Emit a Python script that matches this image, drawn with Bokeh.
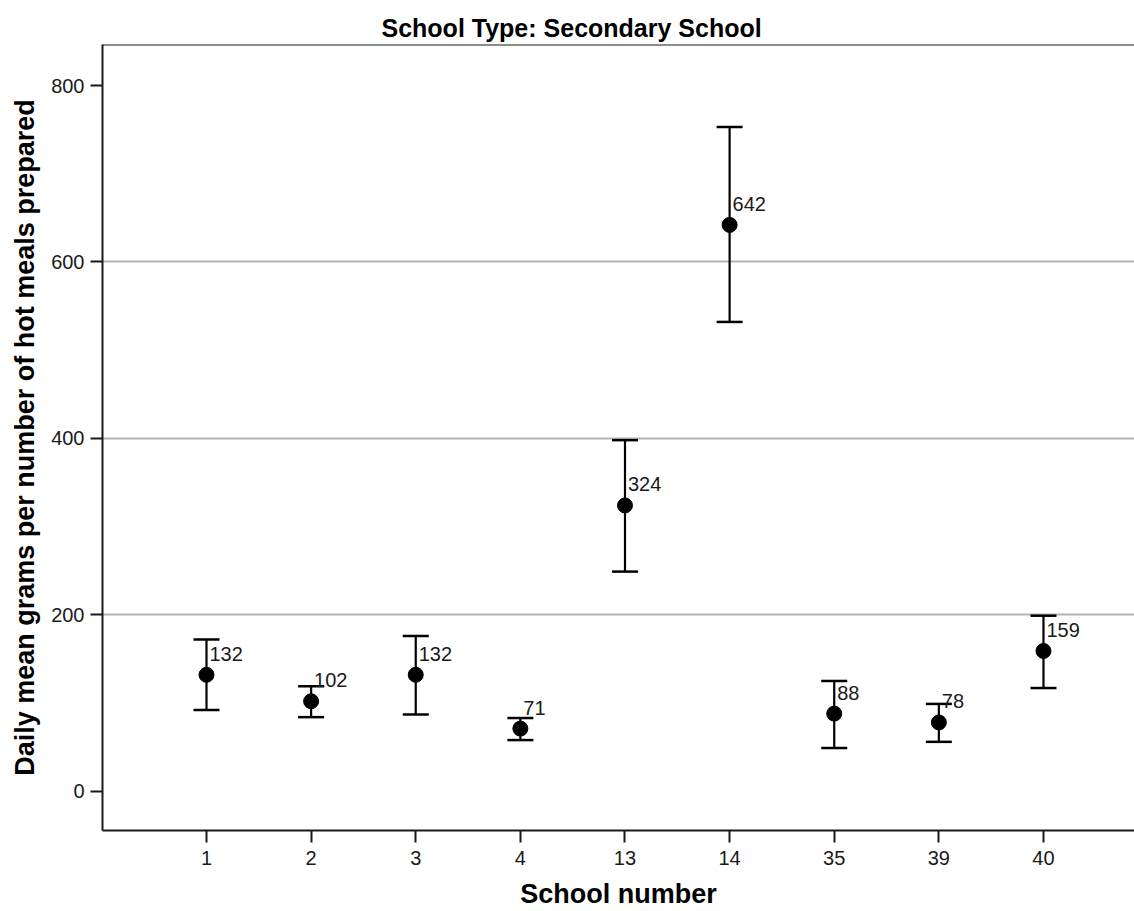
from bokeh.plotting import figure
from bokeh.models import ColumnDataSource, Whisker, TeeHead, Range1d, FixedTicker, Span
from bokeh.core.properties import value
from bokeh.embed import file_html
from bokeh.resources import INLINE

# School means with their error-bar limits
schools = ["1", "2", "3", "4", "13", "14", "35", "39", "40"]
mean_grams = [132, 102, 132, 71, 324, 642, 88, 78, 159]
bar_upper = [172, 119, 176, 83, 398, 753, 125, 99, 199]
bar_lower = [92, 84, 87, 58, 249, 532, 49, 56, 117]
y_ticks = [0, 200, 400, 600, 800]
grid_values = [200, 400, 600]

positions = list(range(len(schools)))
src = ColumnDataSource(dict(
    x=positions,
    mean=mean_grams,
    upper=bar_upper,
    lower=bar_lower,
    label=[str(v) for v in mean_grams],
))

Y_MIN, Y_MAX = -44.5, 846.5
FONT = "Liberation Sans"
INK = "#1a1a1a"

p = figure(
    width=1134, height=911,
    x_range=Range1d(-0.994, 8.87),
    y_range=Range1d(Y_MIN, Y_MAX),
    output_backend="svg", toolbar_location=None,
    min_border_left=102, min_border_right=0,
    min_border_top=44, min_border_bottom=81,
)
p.background_fill_color = "white"
p.border_fill_color = "white"
p.outline_line_color = None

# Title
p.title.text = "School Type: Secondary School"
p.title.text_font = FONT
p.title.text_font_style = "bold"
p.title.text_font_size = "25px"
p.title.text_color = "black"
p.title.align = "left"
p.title.offset = 279
p.title.standoff = 6

# Grid: only the interior reference lines
p.xgrid.visible = False
p.ygrid.ticker = FixedTicker(ticks=grid_values)
p.ygrid.grid_line_color = "#b3b3b3"
p.ygrid.grid_line_width = 2

# Top border of the frame
p.add_layout(Span(location=Y_MAX, dimension="width", line_color=INK, line_width=2))

# Axes
for ax in (p.xaxis[0], p.yaxis[0]):
    ax.axis_line_color = INK
    ax.axis_line_width = 2
    ax.major_tick_line_color = INK
    ax.major_tick_line_width = 2
    ax.major_tick_out = 12
    ax.major_tick_in = 0
    ax.minor_tick_line_color = None
    ax.major_label_text_font = FONT
    ax.major_label_text_font_size = "20px"
    ax.major_label_text_color = INK
    ax.axis_label_text_font = FONT
    ax.axis_label_text_font_style = "bold"
    ax.axis_label_text_font_size = "27px"
    ax.axis_label_text_color = "black"

p.xaxis.ticker = FixedTicker(ticks=positions)
p.xaxis.major_label_overrides = {i: s for i, s in zip(positions, schools)}
p.xaxis.axis_label = "School number"
p.xaxis.major_label_standoff = 8
p.xaxis.axis_label_standoff = 11

p.yaxis.ticker = FixedTicker(ticks=y_ticks)
p.yaxis.axis_label = "Daily mean grams per number of hot meals prepared"
p.yaxis.major_label_standoff = 6
p.yaxis.axis_label_standoff = 8

# Error bars
p.add_layout(Whisker(
    source=src, base="x", upper="upper", lower="lower",
    line_color="black", line_width=2.2,
    upper_head=TeeHead(size=26, line_color="black", line_width=2.5),
    lower_head=TeeHead(size=26, line_color="black", line_width=2.5),
))

# Mean markers
p.scatter("x", "mean", source=src, size=15, color="black")

# Value labels
p.text("x", "mean", text="label", source=src,
       x_offset=3, y_offset=-21,
       text_font=value(FONT), text_font_size="20px",
       text_color=INK, text_baseline="alphabetic", text_align="left")

open("out.html", "w").write(file_html(p, INLINE))
